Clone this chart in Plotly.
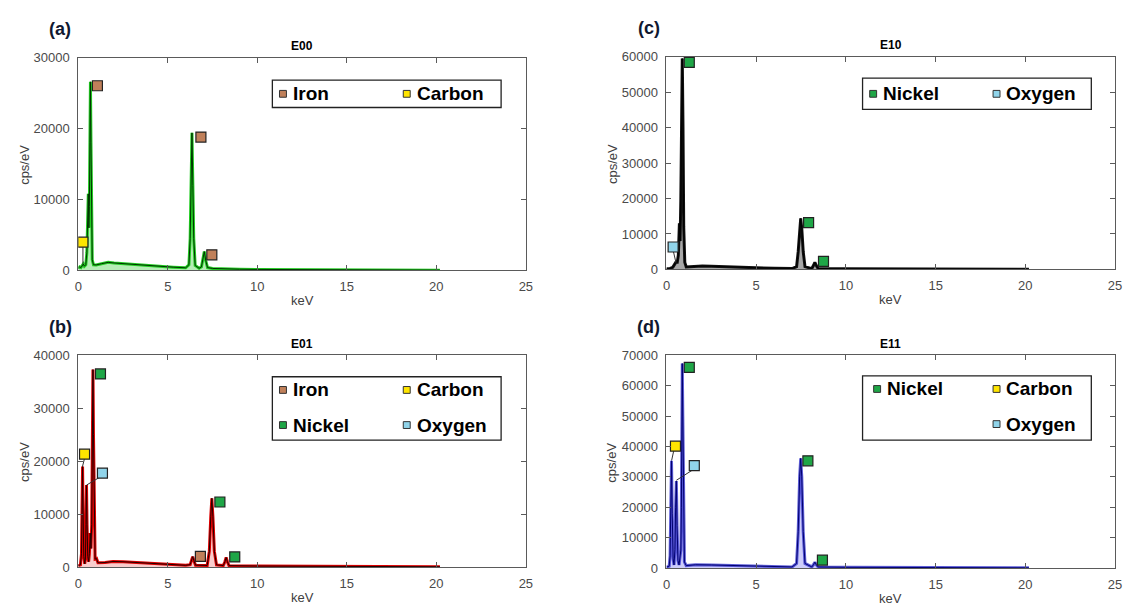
import plotly.graph_objects as go

W, H = 1130, 616

# ---------------- data ----------------
E00_keV = [0.0, 0.08, 0.15, 0.22, 0.28, 0.34, 0.42, 0.48, 0.53, 0.56, 0.59, 0.62, 0.65, 0.68, 0.71, 0.74, 0.78,
           0.85, 1.0, 1.3, 1.67, 2.0, 2.5, 3.4, 4.2, 5.3, 6.0, 6.18, 6.25, 6.30, 6.35, 6.40, 6.45, 6.53, 6.75, 6.88,
           6.96, 7.04, 7.12, 7.22, 7.5, 8.0, 9.0, 10.0, 12.0, 15.0, 18.0, 20.2]
E00_cps = [300, 500, 400, 700, 900, 600, 800, 2500, 7000, 10800, 6000, 9000, 18000, 26600, 18000, 6000, 1500,
           800, 780, 950, 1140, 1050, 950, 780, 620, 460, 370, 800, 4500, 12000, 19400, 12000, 4500, 700, 300, 500,
           1400, 2660, 1400, 400, 280, 220, 170, 140, 110, 80, 60, 40]

E01_keV = [0.0, 0.12, 0.18, 0.21, 0.24, 0.27, 0.31, 0.36, 0.40, 0.43, 0.46, 0.49, 0.53, 0.58, 0.62, 0.67, 0.71,
           0.75, 0.79, 0.82, 0.85, 0.89, 0.94, 1.02, 1.10, 1.5, 1.94, 2.5, 3.0, 4.0, 5.28, 6.0, 6.25, 6.33, 6.39,
           6.46, 6.55, 7.2, 7.32, 7.40, 7.46, 7.52, 7.60, 7.72, 8.1, 8.19, 8.26, 8.33, 8.42, 10.0, 12.0, 15.0, 20.2]
E01_cps = [300, 400, 2500, 10000, 19000, 10000, 2000, 600, 1500, 8000, 15500, 8000, 2000, 1000, 2500, 6400, 3500,
           8000, 25000, 37300, 25000, 6000, 1500, 1600, 800, 850, 1050, 1000, 900, 650, 430, 320, 450, 1200, 1970,
           1200, 350, 300, 3000, 9500, 13000, 9500, 3000, 400, 280, 1000, 1790, 1000, 260, 180, 130, 90, 50]

E10_keV = [0.0, 0.2, 0.35, 0.45, 0.52, 0.60, 0.66, 0.72, 0.76, 0.80, 0.84, 0.88, 0.92, 0.96, 1.02, 1.1, 1.3,
           1.62, 2.0, 2.5, 3.0, 4.0, 4.93, 6.0, 7.0, 7.25, 7.34, 7.42, 7.48, 7.54, 7.62, 7.72, 8.1, 8.19, 8.27,
           8.35, 8.45, 10.0, 12.0, 15.0, 20.2]
E10_cps = [200, 300, 600, 1400, 2000, 2000, 4000, 13000, 8000, 20000, 45000, 59500, 40000, 12000, 2000, 700, 750,
           910, 950, 900, 800, 620, 460, 330, 260, 800, 5000, 11500, 14400, 11500, 5000, 800, 250, 1100, 2000,
           1100, 250, 180, 130, 100, 60]

E11_keV = [0.0, 0.15, 0.20, 0.24, 0.28, 0.32, 0.37, 0.42, 0.47, 0.51, 0.55, 0.59, 0.64, 0.70, 0.76, 0.80, 0.83,
           0.86, 0.88, 0.91, 0.95, 1.0, 1.1, 1.62, 2.5, 3.5, 4.93, 6.0, 7.0, 7.25, 7.34, 7.42, 7.48, 7.54, 7.62,
           7.72, 8.1, 8.19, 8.27, 8.35, 8.45, 10.0, 12.0, 15.0, 20.2]
E11_cps = [300, 600, 4000, 20000, 35300, 18000, 3000, 1000, 6000, 20000, 28600, 14000, 2500, 1000, 4000, 5900,
           20000, 55000, 67300, 50000, 12000, 2000, 800, 1060, 1000, 880, 740, 500, 350, 1500, 12000, 30000, 36100,
           30000, 12000, 1500, 350, 1100, 1920, 1100, 350, 220, 160, 110, 60]

# peak labels (element markers)
E00_lab_keV = [1.07, 6.85, 7.46, 0.26]
E00_lab_cps = [26050, 18810, 2200, 3990]
E00_lab_el = ["Iron", "Iron", "Iron", "Carbon"]

E01_lab_keV = [1.24, 0.35, 1.35, 6.82, 7.91, 8.74]
E01_lab_cps = [36490, 21330, 17750, 2000, 12290, 1900]
E01_lab_el = ["Nickel", "Carbon", "Oxygen", "Iron", "Nickel", "Nickel"]

E10_lab_keV = [1.27, 7.92, 8.75, 0.37]
E10_lab_cps = [58430, 13210, 2290, 6330]
E10_lab_el = ["Nickel", "Nickel", "Nickel", "Oxygen"]

E11_lab_keV = [1.27, 7.88, 8.69, 0.50, 1.55]
E11_lab_cps = [66060, 35280, 2570, 40090, 33670]
E11_lab_el = ["Nickel", "Nickel", "Nickel", "Carbon", "Oxygen"]

# leader lines (marker -> peak)
E00_lead_keV = [0.26, 0.26]
E00_lead_cps = [3440, 920]
E01_lead_keV = [0.35, 0.24, None, 1.20, 0.46]
E01_lead_cps = [20520, 19050, None, 16960, 15480]
E10_lead_keV = [0.37, 0.53]
E10_lead_cps = [5420, 1900]
E11_lead_keV = [0.42, 0.29, None, 1.55, 0.55]
E11_lead_cps = [39030, 35500, None, 32610, 28860]

# legends: (label, column, row)
E00_legend = [("Iron", 0, 0), ("Carbon", 1, 0)]
E01_legend = [("Iron", 0, 0), ("Carbon", 1, 0), ("Nickel", 0, 1), ("Oxygen", 1, 1)]
E10_legend = [("Nickel", 0, 0), ("Oxygen", 1, 0)]
E11_legend = [("Nickel", 0, 0), ("Carbon", 1, 0), ("Oxygen", 1, 1)]

titles = ["E00", "E01", "E10", "E11"]
panel_tags = ["(a)", "(b)", "(c)", "(d)"]
y_max = [30000, 40000, 60000, 70000]
x_ticks = [0, 5, 10, 15, 20, 25]

EL_COLOR = {"Iron": "#C0805A", "Carbon": "#FFE500", "Nickel": "#1FA647", "Oxygen": "#90D4EA"}

# ---------------- layout geometry ----------------
def px(x):
    return x / W

def py(y):
    return 1 - y / H

# plot areas in pixels (left, right, top, bottom)
boxes = [(75, 527, 52, 270), (75, 527, 357, 574), (669, 1122, 51, 269), (669, 1122, 357, 575)]

spec_style = [
    dict(fill="rgba(70,210,70,0.40)", thick="#22CC22", thin="#003300"),
    dict(fill="rgba(235,90,90,0.30)", thick="#DD0000", thin="#220000"),
    dict(fill="rgba(60,60,60,0.45)", thick="#111111", thin="#000000"),
    dict(fill="rgba(90,90,240,0.30)", thick="rgba(40,40,200,0.75)", thin="#000070"),
]

specs = [(E00_keV, E00_cps), (E01_keV, E01_cps), (E10_keV, E10_cps), (E11_keV, E11_cps)]
labs = [(E00_lab_keV, E00_lab_cps, E00_lab_el), (E01_lab_keV, E01_lab_cps, E01_lab_el),
        (E10_lab_keV, E10_lab_cps, E10_lab_el), (E11_lab_keV, E11_lab_cps, E11_lab_el)]
leads = [(E00_lead_keV, E00_lead_cps), (E01_lead_keV, E01_lead_cps),
         (E10_lead_keV, E10_lead_cps), (E11_lead_keV, E11_lead_cps)]
legends = [E00_legend, E01_legend, E10_legend, E11_legend]

# legend box geometry in pixels: (left, top, right, bottom, col0 square x, col1 square x)
leg_geo = [(271, 75, 502, 103, 281.7, 406.7), (271, 379, 502, 444, 281.7, 406.7),
           (867, 73, 1098, 105, 877.7, 1002.3), (867, 378, 1098, 444, 881.7, 1002.3)]

FONT = "Liberation Sans, Arial, sans-serif"

fig = go.Figure()
layout = dict(width=W, height=H, margin=dict(l=0, r=0, t=0, b=0), paper_bgcolor="white",
              plot_bgcolor="white", showlegend=False)
annotations = []
shapes = []


def text_at(txt, x, y, size, color, xanchor="center", angle=0):
    annotations.append(dict(text=txt, x=px(x), y=py(y), xref="paper", yref="paper", showarrow=False,
                            xanchor=xanchor, yanchor="middle", textangle=angle,
                            font=dict(family=FONT, size=size, color=color)))


for i in range(4):
    ax = "" if i == 0 else str(i + 1)
    xa, ya = "x" + ax, "y" + ax
    l, r, t, b = boxes[i]
    common = dict(showline=True, linecolor="#5a5a5a", linewidth=1, mirror="allticks", ticks="inside",
                  ticklen=5, tickcolor="#5a5a5a", showgrid=False, zeroline=False,
                  tickfont=dict(family=FONT, size=13, color="#4a4a4a"))
    layout["xaxis" + ax] = dict(common, domain=[px(l), px(r)], range=[0, 25], tickvals=x_ticks,
                                anchor=ya, ticklabelstandoff=4)
    layout["yaxis" + ax] = dict(common, domain=[py(b), py(t)], range=[0, y_max[i]],
                                tickvals=list(range(0, y_max[i] + 1, 10000)), tickformat="d",
                                anchor=xa, ticklabelstandoff=5)

    kx, ky = specs[i]
    st = spec_style[i]
    fig.add_trace(go.Scatter(x=kx, y=ky, mode="lines", fill="tozeroy", fillcolor=st["fill"],
                             line=dict(color=st["thick"], width=3), xaxis=xa, yaxis=ya, hoverinfo="skip"))
    fig.add_trace(go.Scatter(x=kx, y=ky, mode="lines", line=dict(color=st["thin"], width=1),
                             xaxis=xa, yaxis=ya))
    lx, ly = leads[i]
    fig.add_trace(go.Scatter(x=lx, y=ly, mode="lines", line=dict(color="#333333", width=1),
                             xaxis=xa, yaxis=ya, hoverinfo="skip"))
    mx, my, me = labs[i]
    fig.add_trace(go.Scatter(x=mx, y=my, mode="markers", text=me,
                             marker=dict(symbol="square", size=10, color=[EL_COLOR[e] for e in me],
                                         line=dict(color="#222222", width=1.2)),
                             xaxis=xa, yaxis=ya))

    text_at("<b>" + titles[i] + "</b>", (l + r) / 2, t - 12, 12, "black")
    text_at("<b>" + panel_tags[i] + "</b>", l - 18, t - 29, 18, "#101830")
    text_at("keV", (l + r) / 2, b + 31, 13, "#404040")
    text_at("cps/eV", l - 55, (t + b) / 2 + 1, 13, "#404040", angle=-90)

    # legend box
    gl, gt, gr, gb, c0, c1 = leg_geo[i]
    shapes.append(dict(type="rect", xref="paper", yref="paper", x0=px(gl), x1=px(gr), y0=py(gb), y1=py(gt),
                       line=dict(color="#222222", width=1.3), fillcolor="white", layer="above"))
    nrows = max(row for _, _, row in legends[i]) + 1
    for name, col, row in legends[i]:
        cx = c0 if col == 0 else c1
        cy = (gt + gb) / 2 if nrows == 1 else gt + 13.5 + 36 * row
        shapes.append(dict(type="rect", xref="paper", yref="paper", x0=px(cx - 3.5), x1=px(cx + 3.5),
                           y0=py(cy + 3.5), y1=py(cy - 3.5), fillcolor=EL_COLOR[name],
                           line=dict(color="#333333", width=1), layer="above"))
        text_at("<b>" + name + "</b>", cx + 8, cy, 19, "black", xanchor="left")

layout["annotations"] = annotations
layout["shapes"] = shapes
fig.update_layout(**layout)
fig.write_html("out.html")
